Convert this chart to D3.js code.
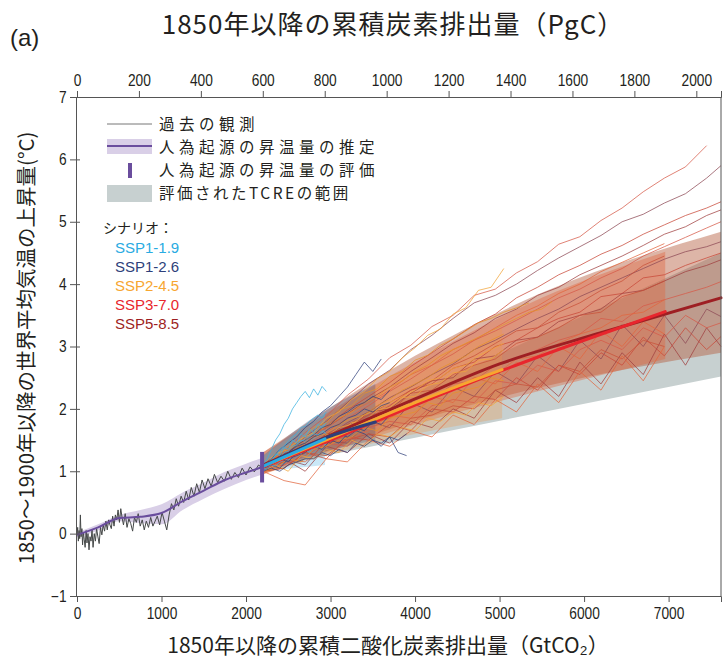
<!DOCTYPE html>
<html>
<head>
<meta charset="utf-8">
<script src="https://cdn.jsdelivr.net/npm/d3@7"></script>
<style>body{margin:0;background:#fff;}</style>
</head>
<body>
<script>
// ---- axis ticks ----
var xTicks = [0, 1000, 2000, 3000, 4000, 5000, 6000, 7000];
var yTicks = [-1, 0, 1, 2, 3, 4, 5, 6, 7];
var pgcTicks = [0, 200, 400, 600, 800, 1000, 1200, 1400, 1600, 1800, 2000];

// ---- historical ----
var obsPoints = [[0,-0.02],[8,0.1],[16,-0.12],[24,0.05],[32,-0.08],[40,0.3],[48,-0.05],[58,0.08],[66,-0.18],[76,0.02],[86,-0.1],[96,-0.22],[108,0.05],[118,-0.15],[130,0.0],[142,-0.26],[154,-0.05],[166,-0.12],[178,0.06],[190,-0.22],[204,0.0],[218,-0.12],[232,0.08],[246,-0.04],[262,-0.16],[278,0.1],[294,-0.02],[310,0.14],[326,0.04],[342,0.2],[358,0.06],[374,0.22],[390,0.14],[406,0.08],[422,0.28],[438,0.12],[454,0.3],[470,0.22],[486,0.38],[502,0.18],[518,0.4],[534,0.25],[550,0.14],[570,0.32],[592,0.1],[614,0.24],[636,0.16],[658,0.04],[680,0.26],[702,0.18],[724,0.32],[748,0.12],[772,0.22],[796,0.06],[820,0.2],[846,0.1],[872,0.26],[898,0.12],[924,0.2],[950,0.28],[978,0.14],[1006,0.34],[1034,0.2],[1062,0.06],[1090,0.3],[1118,0.48],[1146,0.38],[1174,0.56],[1202,0.44],[1232,0.6],[1262,0.5],[1292,0.68],[1322,0.54],[1352,0.74],[1384,0.6],[1416,0.8],[1448,0.66],[1480,0.86],[1514,0.72],[1550,0.88],[1588,0.76],[1626,0.95],[1664,0.82],[1704,0.92],[1744,0.84],[1784,1.0],[1826,0.87],[1868,0.98],[1910,0.9],[1954,1.05],[2000,0.94],[2048,1.07],[2098,0.99],[2148,1.1],[2200,1.04]];
var histX = [0, 250, 500, 750, 1000, 1250, 1500, 1750, 2000, 2200];
var histMid = [-0.02, 0.1, 0.25, 0.27, 0.33, 0.52, 0.69, 0.86, 0.98, 1.07];
var histLo = [-0.06, 0.05, 0.2, 0.17, 0.15, 0.38, 0.56, 0.72, 0.86, 0.95];
var histHi = [0.02, 0.15, 0.3, 0.38, 0.47, 0.66, 0.82, 0.99, 1.12, 1.22];
var assessX = 2190, assessLo = 0.82, assessHi = 1.31;

// ---- TCRE range ----
var tcreX = [2200, 7620];
var tcreLo = [1.05, 2.52];
var tcreHi = [1.15, 4.5];

// ---- scenarios ----
var scenNames = ["SSP1-1.9", "SSP1-2.6", "SSP2-4.5", "SSP3-7.0", "SSP5-8.5"];

var band19X = [2200, 2935], band19Lo = [1.0, 1.1], band19Hi = [1.25, 1.95];
var band26X = [2200, 2900, 3530], band26Lo = [1.0, 1.3, 1.5], band26Hi = [1.25, 1.95, 2.4];
var band45X = [2200, 3500, 5030], band45Lo = [0.95, 1.45, 1.85], band45Hi = [1.25, 2.35, 3.3];
var band70X = [2200, 4000, 5500, 6960], band70Lo = [0.95, 1.75, 2.3, 2.8], band70Hi = [1.3, 2.75, 3.78, 4.52];
var band85X = [2200, 4000, 5500, 7620], band85Lo = [0.95, 1.8, 2.35, 2.9], band85Hi = [1.3, 2.85, 3.86, 4.84];

var mean19X = [2200, 2935], mean19 = [1.08, 1.52];
var mean26X = [2200, 2950, 3530], mean26 = [1.08, 1.54, 1.79];
var mean45X = [2200, 3000, 4000, 5030], mean45 = [1.08, 1.53, 2.1, 2.63];
var mean70X = [2200, 3000, 4000, 5000, 6000, 6960], mean70 = [1.07, 1.5, 2.06, 2.6, 3.1, 3.56];
var mean85X = [2200, 3000, 4000, 5000, 6200, 7620], mean85 = [1.1, 1.58, 2.16, 2.72, 3.22, 3.78];

// model runs, sampled on grids of cumulative emissions
var gridVeryLow = [2200,2250,2300,2350,2400,2450,2500,2550,2600,2650,2700,2750,2800,2850,2900,2950];
var gridLow = [2200,2300,2400,2500,2600,2700,2800,2900,3000,3100,3200,3300,3400,3500,3600,3700,3800,3900];
var gridMid = [2200,2350,2500,2650,2800,2950,3100,3250,3400,3550,3700,3850,4000,4150,4300,4450,4600,4750,4900,5050,5200,5350,5500,5620];
var gridHigh = [2200,2450,2700,2950,3200,3450,3700,3950,4200,4450,4700,4950,5200,5450,5700,5950,6200,6450,6700,6950,7200,7450,7620];

var runs19 = [
  [1.1,1.2,1.35,1.5,1.6,1.75,1.85,2.0,2.1,2.2,2.28,2.18,2.32,2.22,2.36,2.28],
  [1.05,1.12,1.2,1.25,1.35,1.4,1.48,1.55,1.6,1.7,1.72,1.8,1.85,1.9,1.85,1.95],
  [1.05,1.1,1.15,1.2,1.22,1.3,1.32,1.4,1.42,1.5,1.48,1.55,1.6,1.58,1.65,1.6],
  [1.0,1.05,1.1,1.08,1.15,1.2,1.18,1.25,1.3,1.28,1.35,1.3,1.4,1.38,1.45,1.42],
  [1.05,1.15,1.12,1.28,1.25,1.38,1.35,1.5,1.45,1.6,1.55,1.68,1.62,1.75,1.7,1.78]
];
var runs26 = [
  [1.1,1.2,1.35,1.45,1.55,1.7,1.8,1.95,2.05,2.2,2.35,2.55,2.75,2.6,2.8],
  [1.05,1.15,1.2,1.3,1.4,1.45,1.55,1.6,1.7,1.75,1.85,1.9,2.0,1.95,2.05,2.1],
  [1.05,1.1,1.2,1.15,1.3,1.35,1.4,1.5,1.45,1.6,1.55,1.65,1.6,1.5,1.4,1.55,1.3,1.25],
  [1.0,1.1,1.05,1.2,1.25,1.3,1.4,1.35,1.5,1.45,1.6,1.7,1.65,1.8,1.75,1.9],
  [1.0,1.05,1.0,1.1,1.15,1.2,1.2,1.3,1.25,1.35,1.3,1.45,1.4,1.5,1.45,1.55,1.5,1.6],
  [1.05,1.12,1.25,1.3,1.42,1.5,1.58,1.7,1.75,1.88,1.95,2.05,2.1,2.2,2.15,2.3]
];
var runs45 = [
  [1.1,1.28,1.35,1.52,1.62,1.85,1.95,2.15,2.28,2.48,2.6,2.82,2.98,3.18,3.28,3.52,3.62,3.9,3.95,4.25],
  [1.1,1.2,1.35,1.45,1.6,1.72,1.85,1.95,2.1,2.2,2.35,2.45,2.6,2.7,2.85,2.95,3.05,3.15,3.25,3.35,3.45,3.55,3.6,3.72],
  [1.05,1.15,1.25,1.35,1.45,1.55,1.7,1.75,1.9,2.0,2.1,2.2,2.3,2.45,2.5,2.65,2.7,2.85,2.95,3.05],
  [1.0,1.05,1.2,1.15,1.35,1.4,1.5,1.55,1.7,1.65,1.85,1.9,1.95,2.1,2.05,2.25,2.3,2.35,2.5,2.45],
  [1.0,1.1,1.0,1.25,1.2,1.35,1.3,1.5,1.4,1.6,1.55,1.7,1.65,1.85,1.8,1.95,1.9,2.1,2.05,2.2],
  [1.05,1.2,1.3,1.4,1.55,1.6,1.75,1.85,1.9,2.05,2.15,2.3,2.4,2.5,2.65,2.75,2.85,3.0,3.1,3.2],
  [1.05,1.18,1.22,1.38,1.42,1.58,1.6,1.78,1.8,1.98,2.02,2.18,2.2,2.38,2.42,2.58,2.6,2.78,2.8,2.95],
  [1.1,1.22,1.4,1.5,1.7,1.78,1.98,2.05,2.25,2.32,2.52,2.6,2.78,2.86,3.02,3.12,3.25,3.38,3.45,3.55,3.62,3.7]
];
var runs70 = [
  [1.1,1.3,1.48,1.7,1.92,2.1,2.3,2.55,2.7,2.95,3.1,3.3,3.5,3.65,3.85,4.0,4.2,4.35,4.5,4.65],
  [1.05,1.15,1.4,1.45,1.7,1.9,1.95,2.25,2.3,2.55,2.7,2.8,3.05,3.15,3.3,3.5,3.55,3.8,3.9,4.05],
  [1.0,1.2,1.15,1.45,1.5,1.65,1.9,1.85,2.2,2.1,2.5,2.4,2.75,2.6,3.0,2.8,3.25,3.0,3.4,3.2],
  [1.0,1.05,1.3,1.25,1.5,1.6,1.55,1.85,1.9,2.05,2.0,2.3,2.4,2.35,2.7,2.6,2.95,2.8,3.1,3.0],
  [1.0,0.85,0.78,1.2,1.15,1.5,1.4,1.65,1.55,1.9,1.75,2.15,1.95,2.4,2.1,2.6,2.3,2.85,2.45,3.0],
  [1.05,1.25,1.35,1.6,1.75,1.9,2.1,2.3,2.45,2.7,2.85,3.05,3.25,3.3,3.55,3.7,3.9,4.05,4.3,4.45],
  [1.05,1.2,1.3,1.5,1.6,1.8,1.85,2.05,2.2,2.3,2.5,2.55,2.8,2.85,3.05,3.2,3.3,3.5,3.55,3.75]
];
var runs85 = [
  [1.1,1.32,1.62,1.88,2.22,2.48,2.82,3.02,3.32,3.5,3.82,3.92,4.18,4.36,4.64,4.76,5.02,5.22,5.48,5.7,5.88,6.22],
  [1.1,1.3,1.55,1.8,2.1,2.4,2.62,2.95,3.18,3.45,3.7,3.82,4.0,4.22,4.42,4.6,4.78,5.0,5.12,5.3,5.45,5.7,5.9],
  [1.1,1.28,1.5,1.72,1.98,2.2,2.42,2.68,2.9,3.12,3.35,3.52,3.78,3.95,4.15,4.3,4.48,4.62,4.8,4.95,5.1,5.22,5.32],
  [1.1,1.25,1.45,1.7,1.92,2.15,2.35,2.6,2.82,3.05,3.22,3.45,3.6,3.82,3.95,4.15,4.3,4.45,4.62,4.8,4.92,5.1,5.19],
  [1.1,1.22,1.42,1.62,1.85,2.05,2.28,2.48,2.7,2.88,3.1,3.25,3.42,3.6,3.78,3.92,4.1,4.25,4.45,4.6,4.75,4.9,5.0],
  [1.05,1.2,1.38,1.55,1.78,1.95,2.18,2.35,2.55,2.72,2.95,3.1,3.28,3.45,3.6,3.8,3.95,4.1,4.25,4.4,4.52,4.6,4.68],
  [1.0,1.15,1.4,1.48,1.7,1.85,2.05,2.3,2.4,2.65,2.75,3.0,3.1,3.3,3.45,3.55,3.8,3.85,4.1,4.15,4.3,4.42,4.5],
  [1.05,1.3,1.3,1.6,1.65,1.95,2.0,2.25,2.45,2.5,2.8,2.85,3.1,3.15,3.4,3.5,3.6,3.85,3.9,4.05,4.2,4.3,4.39],
  [1.0,1.1,1.35,1.4,1.6,1.75,1.85,2.1,2.15,2.4,2.45,2.7,2.8,2.95,3.1,3.2,3.45,3.4,3.65,3.75,3.85,3.95,4.04],
  [1.05,1.2,1.1,1.5,1.45,1.8,1.7,2.1,1.95,2.35,2.2,2.6,2.4,2.85,2.6,3.1,2.8,3.35,3.0,3.5,3.05,3.6,3.48],
  [1.0,1.05,1.3,1.2,1.55,1.5,1.75,1.65,2.0,1.95,2.2,2.15,2.5,2.3,2.7,2.55,2.9,2.7,3.15,2.85,3.3,2.95,3.16],
  [1.0,1.2,1.0,1.4,1.3,1.6,1.45,1.8,1.7,2.0,1.85,2.3,2.1,2.5,2.2,2.75,2.4,2.9,2.55,3.2,2.7,3.3,3.0],
  [1.05,1.1,1.25,1.45,1.4,1.7,1.8,1.75,2.05,2.15,2.1,2.45,2.4,2.7,2.6,2.95,3.1,2.95,3.3,3.15,3.5,3.3,3.38]
];

// ---- styles ----
var scenColors = ["#29abe2", "#2e3f7a", "#f7a630", "#e8262d", "#9e1f23"];
var bandColors = ["#50b4e6", "#3c5082", "#ee9446", "#e1643c", "#b45a3c"];
var bandOpacity = [0.3, 0.3, 0.3, 0.4, 0.45];
var runColors = [["#3cb2e0"], ["#34447e"], ["#f2a43a", "#e69128"], ["#e2663e", "#c85038"], ["#d65a48", "#8e4a55", "#c84838", "#a04040"]];
var jpFont = "'Noto Sans CJK JP', sans-serif";
var numFont = "'Liberation Sans Narrow', 'Liberation Sans', Arial, sans-serif";

var width = 724, height = 661;
var svg = d3.select("body").append("svg")
  .attr("width", width)
  .attr("height", height);

var x = d3.scaleLinear().domain([0, 7620]).range([77, 721]);
var y = d3.scaleLinear().domain([-1, 7]).range([596, 97]);
var xTop = d3.scaleLinear().domain([0, 7620 / 3.664]).range([77, 721]);

var line = d3.line().x(function(d) { return x(d[0]); }).y(function(d) { return y(d[1]); });
var smooth = d3.line().curve(d3.curveMonotoneX).x(function(d) { return x(d[0]); }).y(function(d) { return y(d[1]); });
var area = d3.area().curve(d3.curveMonotoneX).x(function(d) { return x(d[0]); }).y0(function(d) { return y(d[1]); }).y1(function(d) { return y(d[2]); });

function zip2(xs, ys) { return ys.map(function(v, i) { return [xs[i], v]; }); }
function zip3(xs, lo, hi) { return xs.map(function(v, i) { return [v, lo[i], hi[i]]; }); }

var plot = svg.append("g");

// TCRE range
plot.append("path")
  .attr("d", area(zip3(tcreX, tcreLo, tcreHi)))
  .style("fill", "#c7d0d0");

// scenario bands
var bands = [[band85X, band85Lo, band85Hi, 4], [band70X, band70Lo, band70Hi, 3], [band45X, band45Lo, band45Hi, 2],
             [band26X, band26Lo, band26Hi, 1], [band19X, band19Lo, band19Hi, 0]];
bands.forEach(function(b) {
  plot.append("path")
    .attr("d", area(zip3(b[0], b[1], b[2])))
    .style("fill", bandColors[b[3]])
    .style("opacity", bandOpacity[b[3]]);
});

// model runs
var runSets = [[runs85, gridHigh, 4], [runs70, gridHigh, 3], [runs45, gridMid, 2], [runs26, gridLow, 1], [runs19, gridVeryLow, 0]];
runSets.forEach(function(s) {
  s[0].forEach(function(r, i) {
    var cols = runColors[s[2]];
    plot.append("path")
      .attr("d", line(zip2(s[1], r)))
      .style("fill", "none")
      .style("stroke", cols[i % cols.length])
      .style("stroke-width", 1)
      .style("opacity", 0.75);
  });
});

// scenario means
var means = [[mean85X, mean85, 4], [mean70X, mean70, 3], [mean45X, mean45, 2], [mean26X, mean26, 1], [mean19X, mean19, 0]];
means.forEach(function(m) {
  plot.append("path")
    .attr("d", smooth(zip2(m[0], m[1])))
    .style("fill", "none")
    .style("stroke", scenColors[m[2]])
    .style("stroke-width", 3)
    .style("stroke-linecap", "round");
});

// historical estimate
plot.append("path")
  .attr("d", area(zip3(histX, histLo, histHi)))
  .style("fill", "#d9cfe7");
plot.append("path")
  .attr("d", line(obsPoints))
  .style("fill", "none")
  .style("stroke", "#454848")
  .style("stroke-width", 1);
plot.append("path")
  .attr("d", smooth(zip2(histX, histMid)))
  .style("fill", "none")
  .style("stroke", "#6a4d9d")
  .style("stroke-width", 2);
plot.append("rect")
  .attr("x", x(assessX) - 2)
  .attr("y", y(assessHi))
  .attr("width", 4)
  .attr("height", y(assessLo) - y(assessHi))
  .style("fill", "#6a4d9d");

// axes
var axisColor = "#555";
var gB = svg.append("g").attr("transform", "translate(0,596)")
  .call(d3.axisBottom(x).tickValues(xTicks).tickSize(6).tickPadding(6).tickFormat(d3.format("d")));
var gT = svg.append("g").attr("transform", "translate(0,97)")
  .call(d3.axisTop(xTop).tickValues(pgcTicks).tickSize(6).tickPadding(5).tickFormat(d3.format("d")));
var gL = svg.append("g").attr("transform", "translate(76,0)")
  .call(d3.axisLeft(y).tickValues(yTicks).tickSize(6).tickPadding(5).tickFormat(d3.format("d")));
[gB, gT, gL].forEach(function(g) {
  g.select(".domain").style("stroke", axisColor);
  g.selectAll(".tick line").style("stroke", axisColor);
  g.selectAll("text").style("font-family", numFont).style("font-size", "16px").style("fill", "#231f20")
    .attr("transform", "scale(0.86,1)");
});
gL.selectAll(".tick line").attr("x2", -6).attr("x1", 4);
svg.append("line")
  .attr("x1", 721).attr("x2", 721).attr("y1", 97).attr("y2", 596)
  .style("stroke", axisColor);

// titles
svg.append("text")
  .attr("x", 10).attr("y", 46)
  .style("font-family", numFont).style("font-size", "24px").style("fill", "#231f20")
  .text("(a)");
svg.append("text")
  .attr("x", 393).attr("y", 34)
  .attr("text-anchor", "middle")
  .style("font-family", jpFont).style("font-size", "26px").style("letter-spacing", "1px").style("fill", "#231f20")
  .text("1850年以降の累積炭素排出量（PgC）");
svg.append("text")
  .attr("x", 388).attr("y", 653)
  .attr("text-anchor", "middle")
  .style("font-family", jpFont).style("font-size", "21px").style("fill", "#231f20")
  .text("1850年以降の累積二酸化炭素排出量（GtCO₂）");
svg.append("text")
  .attr("transform", "translate(34,348) rotate(-90)")
  .attr("text-anchor", "middle")
  .style("font-family", jpFont).style("font-size", "20.5px").style("fill", "#231f20")
  .text("1850～1900年以降の世界平均気温の上昇量(°C)");

// legend
var lg = svg.append("g").style("font-family", jpFont).style("font-size", "15.5px").style("fill", "#231f20");
lg.append("line").attr("x1", 107).attr("x2", 152).attr("y1", 124).attr("y2", 124)
  .style("stroke", "#777").style("stroke-width", 1);
lg.append("text").attr("x", 159).attr("y", 130).style("letter-spacing", "4.5px").text("過去の観測");
lg.append("rect").attr("x", 107).attr("y", 139).attr("width", 45).attr("height", 15).style("fill", "#d9cfe7");
lg.append("line").attr("x1", 107).attr("x2", 152).attr("y1", 146).attr("y2", 146)
  .style("stroke", "#6a4d9d").style("stroke-width", 2);
lg.append("text").attr("x", 159).attr("y", 153).style("letter-spacing", "4.5px").text("人為起源の昇温量の推定");
lg.append("rect").attr("x", 128).attr("y", 163).attr("width", 4).attr("height", 15).style("fill", "#6a4d9d");
lg.append("text").attr("x", 159).attr("y", 176).style("letter-spacing", "4.5px").text("人為起源の昇温量の評価");
lg.append("rect").attr("x", 107).attr("y", 185).attr("width", 45).attr("height", 17).style("fill", "#c7d0d0");
lg.append("text").attr("x", 159).attr("y", 199).style("letter-spacing", "2.5px").text("評価されたTCREの範囲");
lg.append("text").attr("x", 103).attr("y", 233).style("font-size", "14px").text("シナリオ：");
scenNames.forEach(function(n, i) {
  lg.append("text")
    .attr("x", 115).attr("y", 253 + i * 19)
    .style("font-family", numFont).style("font-size", "15px")
    .style("fill", scenColors[i])
    .text(n);
});
</script>
</body>
</html>
